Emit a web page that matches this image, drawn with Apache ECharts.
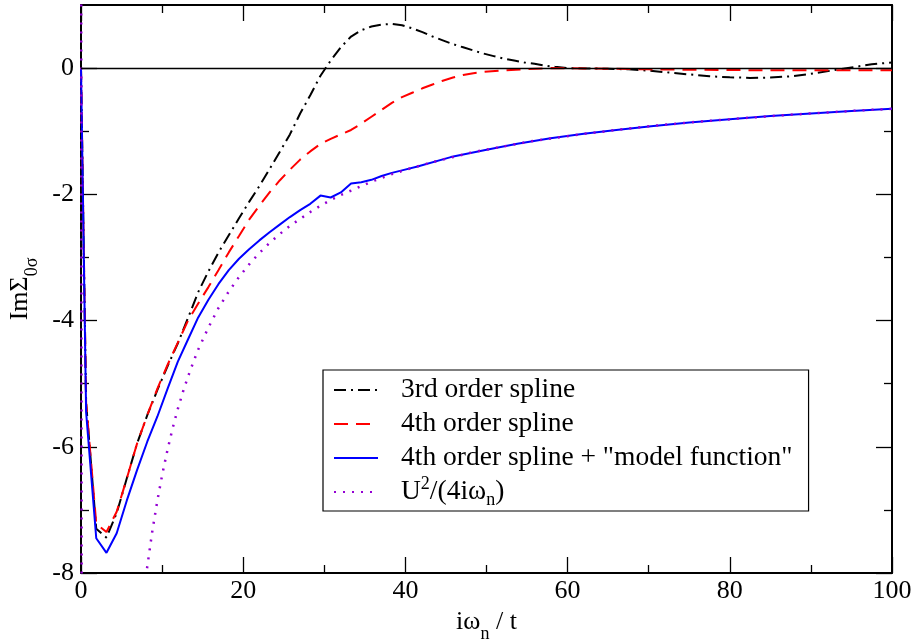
<!DOCTYPE html>
<html><head><meta charset="utf-8">
<script src="https://cdn.jsdelivr.net/npm/echarts@6/dist/echarts.min.js"></script>
<style>html,body{margin:0;padding:0;background:#fff}#c{width:916px;height:643px}</style>
</head><body><div id="c"></div>
<script>
const FONT = 'Liberation Serif';
const seriesNames = ['3rd order spline', '4th order spline', '4th order spline + "model function"', 'U2/(4iwn)'];
const xMajorTicks = [0, 20, 40, 60, 80, 100];
const yMajorTicks = [-8, -6, -4, -2, 0];
const yMinorTicks = [-7, -5, -3, -1];

const x3rd = [0, 0.63, 1.88, 3.14, 4.40, 5.65, 6.91, 8.17, 9.42, 10.68, 11.94, 13.19, 14.45, 15.71, 16.96, 18.22, 19.48, 20.73, 21.99, 23.25, 24.50, 25.76, 27.02, 28.27, 29.53, 30.79, 32.04, 33.30, 34.56, 35.81, 37.07, 38.33, 39.58, 40.84, 42.10, 43.35, 44.61, 45.87, 47.12, 48.38, 49.64, 50.89, 52.15, 53.41, 54.66, 55.92, 57.18, 58.43, 60, 62.5, 65, 67.5, 70, 72.5, 75, 77.5, 80, 82.5, 85, 87.5, 90, 92.5, 95, 97.5, 100];
const y3rd = [0, -5.3, -7.3, -7.44, -7.05, -6.5, -5.95, -5.5, -5.1, -4.72, -4.36, -3.96, -3.55, -3.22, -2.92, -2.65, -2.38, -2.12, -1.87, -1.6, -1.33, -1.05, -0.72, -0.43, -0.12, 0.12, 0.33, 0.5, 0.6, 0.66, 0.69, 0.70, 0.68, 0.63, 0.57, 0.5, 0.44, 0.38, 0.33, 0.28, 0.23, 0.19, 0.15, 0.12, 0.09, 0.07, 0.04, 0.02, 0.0, -0.005, -0.01, -0.02, -0.04, -0.07, -0.1, -0.13, -0.145, -0.155, -0.15, -0.13, -0.09, -0.04, 0.01, 0.06, 0.09];

const x4th = [0, 0.63, 1.88, 3.14, 4.40, 5.65, 6.91, 8.17, 9.42, 10.68, 11.94, 13.19, 14.45, 15.71, 16.96, 18.22, 19.48, 20.73, 21.99, 23.25, 24.50, 25.76, 27.02, 28.27, 29.53, 30.79, 32.04, 33.30, 34.56, 35.81, 37.07, 38.33, 39.58, 40.84, 42.10, 43.35, 44.61, 45.87, 47.12, 48.38, 49.64, 52.15, 55, 58, 62, 66, 70, 75, 80, 85, 90, 95, 100];
const y4th = [0, -5.3, -7.22, -7.35, -7.03, -6.5, -5.95, -5.5, -5.08, -4.7, -4.35, -4.0, -3.73, -3.47, -3.2, -2.92, -2.66, -2.4, -2.18, -1.97, -1.78, -1.61, -1.45, -1.32, -1.2, -1.12, -1.05, -0.98, -0.88, -0.77, -0.66, -0.55, -0.46, -0.39, -0.32, -0.26, -0.2, -0.15, -0.11, -0.08, -0.06, -0.035, -0.015, 0, -0.005, -0.01, -0.02, -0.025, -0.03, -0.035, -0.035, -0.035, -0.035];

const xModel = [0, 0.63, 1.88, 3.14, 4.40, 5.65, 6.91, 8.17, 9.42, 10.68, 11.94, 13.19, 14.45, 15.71, 16.96, 18.22, 19.48, 20.73, 21.99, 23.25, 24.50, 25.76, 27.02, 28.27, 29.53, 30.79, 32.04, 33.30, 34.56, 35.81, 37.07, 38.33, 39.58, 41.5, 45.6, 49.7, 53.8, 57.9, 62, 66, 70.3, 75, 80, 85, 90, 95, 100];
const yModel = [0, -5.45, -7.45, -7.68, -7.37, -6.85, -6.37, -5.92, -5.52, -5.08, -4.65, -4.3, -3.95, -3.67, -3.42, -3.2, -3.02, -2.87, -2.73, -2.6, -2.48, -2.36, -2.25, -2.15, -2.02, -2.05, -1.97, -1.83, -1.81, -1.77, -1.71, -1.66, -1.62, -1.56, -1.41, -1.30, -1.20, -1.11, -1.04, -0.98, -0.92, -0.86, -0.81, -0.76, -0.72, -0.68, -0.645];

const xU2 = [0, 0.63, 1.88, 3.14, 4.40, 5.65, 6.91, 7.54, 8.17, 8.80, 9.42, 10.05, 10.68, 11.31, 11.94, 12.57, 13.19, 13.82, 14.45, 15.71, 16.96, 18.22, 19.48, 20.73, 21.99, 23.25, 24.50, 25.76, 27.02, 28.27, 29.53, 30.79, 32.04, 33.30, 35.81, 38.33, 40.84, 43.35, 45.87, 48.38, 50.89, 55.92, 60.95, 65.97, 70.99, 76.02, 81.05, 86.08, 91.11, 96.13, 100];
const yU2 = [6, -102.7, -34.3, -20.5, -14.7, -11.4, -9.33, -8.55, -7.9, -7.33, -6.85, -6.42, -6.04, -5.70, -5.40, -5.13, -4.89, -4.67, -4.46, -4.11, -3.80, -3.54, -3.31, -3.11, -2.93, -2.77, -2.63, -2.50, -2.39, -2.28, -2.18, -2.09, -2.01, -1.94, -1.80, -1.68, -1.58, -1.49, -1.41, -1.33, -1.27, -1.15, -1.06, -0.98, -0.91, -0.85, -0.80, -0.75, -0.71, -0.67, -0.645];

function pairs(xs, ys) { return xs.map((x, i) => [x, ys[i]]); }

const tickLine = { color: '#000', width: 1.3 };
const frameLine = { color: '#000', width: 2 };
const labelStyle = { fontFamily: FONT, fontSize: 26, color: '#000' };

function xAx(pos, withLabels) {
  const a = {
    type: 'value', min: 0, max: 100, interval: 20, position: pos, gridIndex: 0,
    axisLine: { show: true, onZero: false, lineStyle: frameLine },
    axisTick: { show: true, inside: true, length: 16, lineStyle: tickLine },
    minorTick: { show: true, splitNumber: 2, length: 8, lineStyle: tickLine },
    axisLabel: { show: withLabels, margin: 5, ...labelStyle, lineHeight: 26 },
    splitLine: { show: false }, minorSplitLine: { show: false }
  };
  if (withLabels) {
    a.name = '{a|iω}{b|n}{a| / t}';
    a.nameLocation = 'middle';
    a.nameGap = 33;
    a.nameTextStyle = { ...labelStyle, rich: {
      a: { fontFamily: FONT, fontSize: 26, lineHeight: 26, verticalAlign: 'top', color: '#000' },
      b: { fontFamily: FONT, fontSize: 18, lineHeight: 50, color: '#000' } } };
  }
  return a;
}
function yAx(pos, major, withLabels) {
  const vals = major ? yMajorTicks : yMinorTicks;
  const a = {
    type: 'value', min: -8, max: 1, position: pos, gridIndex: 0,
    axisLine: { show: major, onZero: false, lineStyle: frameLine },
    axisTick: { show: true, inside: true, length: major ? 16 : 8, customValues: vals, lineStyle: tickLine },
    axisLabel: { show: withLabels, margin: 7, customValues: yMajorTicks, ...labelStyle },
    splitLine: { show: false }
  };
  if (withLabels) {
    a.name = '{a|ImΣ}{b|0σ}';
    a.nameLocation = 'middle';
    a.nameRotate = 90;
    a.nameGap = 20;
    a.nameTextStyle = { ...labelStyle, rich: {
      a: { fontFamily: FONT, fontSize: 26, lineHeight: 26, verticalAlign: 'top', color: '#000' },
      b: { fontFamily: FONT, fontSize: 18, lineHeight: 50, color: '#000' } } };
  }
  return a;
}

const lineBase = { type: 'line', symbol: 'none', showSymbol: false, smooth: false, clip: true, xAxisIndex: 0, yAxisIndex: 0, animation: false };

const option = {
  animation: false,
  backgroundColor: '#fff',
  grid: { left: 81, top: 5, width: 811, height: 568, containLabel: false, outerBoundsMode: 'none' },
  xAxis: [xAx('bottom', true), xAx('top', false)],
  yAxis: [yAx('left', true, true), yAx('left', false, false), yAx('right', true, false), yAx('right', false, false)],
  legend: {
    orient: 'vertical', left: 323, top: 370,
    padding: [3, 16, 2, 10], itemGap: 0, itemWidth: 44, itemHeight: 34,
    borderColor: '#000', borderWidth: 1.2, backgroundColor: '#fff',
    itemStyle: { opacity: 0 },
    data: seriesNames,
    textStyle: { fontFamily: FONT, fontSize: 27.5, lineHeight: 34, color: '#000', rich: {
      s: { width: 18 },
      a: { fontFamily: FONT, fontSize: 27.5, lineHeight: 34, color: '#000' },
      sup: { fontFamily: FONT, fontSize: 18, lineHeight: 16, verticalAlign: 'top', color: '#000' },
      sub: { fontFamily: FONT, fontSize: 18, lineHeight: 16, verticalAlign: 'bottom', color: '#000' } } },
    formatter: function (name) {
      if (name === seriesNames[3]) return '{s| }{a|U}{sup|2}{a|/(4iω}{sub|n}{a|)}';
      return '{s| }{a|' + name + '}';
    }
  },
  series: [
    { ...lineBase, name: seriesNames[0], data: pairs(x3rd, y3rd),
      lineStyle: { color: '#000', width: 2, type: [12, 5, 2, 5] }, itemStyle: { color: '#000' },
      markLine: { silent: true, symbol: ['none', 'none'], label: { show: false }, animation: false,
        lineStyle: { color: '#000', type: 'solid', width: 1.3 }, data: [{ yAxis: 0 }] } },
    { ...lineBase, name: seriesNames[1], data: pairs(x4th, y4th),
      lineStyle: { color: '#ff0000', width: 2, type: [14, 8] }, itemStyle: { color: '#ff0000' } },
    { ...lineBase, name: seriesNames[2], data: pairs(xModel, yModel),
      lineStyle: { color: '#0000ff', width: 2 }, itemStyle: { color: '#0000ff' } },
    { ...lineBase, name: seriesNames[3], data: pairs(xU2, yU2),
      lineStyle: { color: '#9400d3', width: 2.5, type: [2, 7] }, itemStyle: { color: '#9400d3' } }
  ]
};
const chart = echarts.init(document.getElementById('c'), null, { renderer: 'canvas' });
chart.setOption(option);
</script></body></html>
